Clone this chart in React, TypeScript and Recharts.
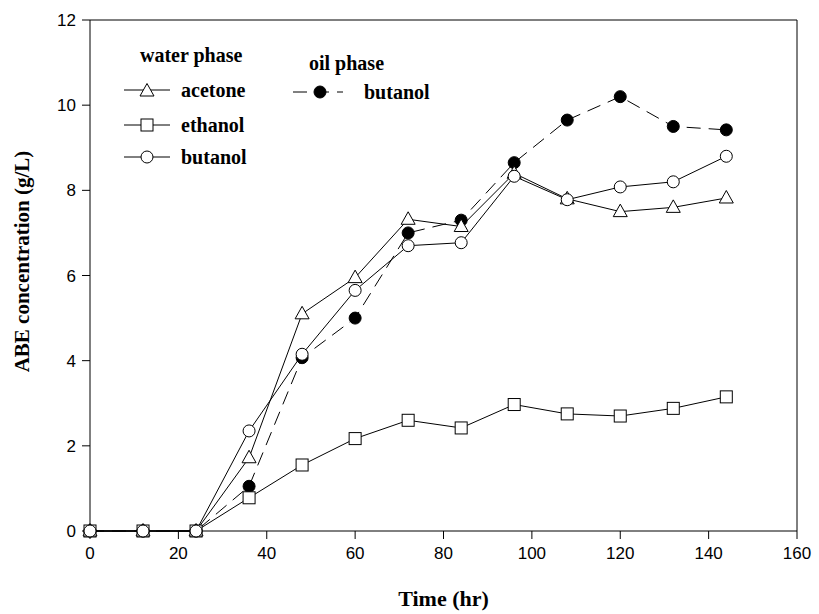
import { LineChart, Line, XAxis, YAxis, ReferenceLine, Label } from 'recharts';

const time = [0, 12, 24, 36, 48, 60, 72, 84, 96, 108, 120, 132, 144];
const acetone = [0, 0, 0, 1.72, 5.1, 5.95, 7.32, 7.15, 8.4, 7.8, 7.5, 7.6, 7.82];
const ethanol = [0, 0, 0, 0.78, 1.55, 2.17, 2.6, 2.42, 2.97, 2.75, 2.7, 2.88, 3.15];
const butanolWater = [0, 0, 0, 2.35, 4.15, 5.65, 6.7, 6.77, 8.33, 7.78, 8.08, 8.2, 8.8];
const butanolOil = [0, 0, 0, 1.05, 4.07, 5.0, 7.0, 7.3, 8.65, 9.65, 10.2, 9.5, 9.42];

const xTicks = [0, 20, 40, 60, 80, 100, 120, 140, 160];
const yTicks = [0, 2, 4, 6, 8, 10, 12];

const data = time.map((t, i) => ({
  t,
  acetone: acetone[i],
  ethanol: ethanol[i],
  butanolWater: butanolWater[i],
  butanolOil: butanolOil[i],
}));

const tickStyle = { fontFamily: 'Liberation Sans, Arial, sans-serif', fontSize: 17, fill: '#000' };
const serifBold = { fontFamily: 'Liberation Serif, Times New Roman, serif', fontWeight: 700 };

const Triangle = ({ cx, cy }: any) => (
  <path d={`M${cx},${cy - 7.5} L${cx + 7},${cy + 5} L${cx - 7},${cy + 5} Z`} fill="#fff" stroke="#000" strokeWidth={1} />
);
const Square = ({ cx, cy }: any) => (
  <rect x={cx - 6} y={cy - 6} width={12} height={12} fill="#fff" stroke="#000" strokeWidth={1} />
);
const OpenCircle = ({ cx, cy }: any) => (
  <circle cx={cx} cy={cy} r={6} fill="#fff" stroke="#000" strokeWidth={1} />
);
const FilledCircle = ({ cx, cy }: any) => (
  <circle cx={cx} cy={cy} r={6} fill="#000" stroke="#000" strokeWidth={1} />
);

// legend drawn by hand, the original has two titled columns
function LegendBox() {
  const rowText = { ...serifBold, fontSize: 20, fill: '#000' };
  return (
    <svg width={340} height={150} style={{ position: 'absolute', left: 120, top: 40 }}>
      <text x={20} y={22} style={rowText}>water phase</text>
      <line x1={4} y1={50} x2={50} y2={50} stroke="#000" />
      <Triangle cx={27} cy={51} />
      <text x={61} y={57} style={rowText}>acetone</text>
      <line x1={4} y1={85} x2={50} y2={85} stroke="#000" />
      <Square cx={27} cy={85} />
      <text x={61} y={92} style={rowText}>ethanol</text>
      <line x1={4} y1={117} x2={50} y2={117} stroke="#000" />
      <OpenCircle cx={27} cy={117} />
      <text x={61} y={124} style={rowText}>butanol</text>

      <text x={189} y={30} style={rowText}>oil phase</text>
      <line x1={173} y1={52} x2={223} y2={52} stroke="#000" strokeDasharray="14 8" />
      <FilledCircle cx={200} cy={52} />
      <text x={244} y={59} style={rowText}>butanol</text>
    </svg>
  );
}

export default function App() {
  return (
    <div style={{ position: 'absolute', left: 0, top: 0, width: 819, height: 614, background: '#fff' }}>
      <LineChart width={819} height={614} data={data} margin={{ top: 20, right: 22, left: 0, bottom: 0 }}>
        <XAxis
          dataKey="t"
          type="number"
          domain={[0, 160]}
          ticks={xTicks}
          tick={tickStyle}
          tickSize={8}
          tickMargin={8}
          stroke="#000"
          height={83}
        >
          <Label value="Time (hr)" position="insideBottom" offset={8} style={{ ...serifBold, fontSize: 22, fill: '#000' }} />
        </XAxis>
        <YAxis
          type="number"
          domain={[0, 12]}
          ticks={yTicks}
          tick={tickStyle}
          tickSize={8}
          tickMargin={6}
          stroke="#000"
          width={90}
        >
          <Label
            value="ABE concentration (g/L)"
            angle={-90}
            position="insideLeft"
            offset={22}
            dy={-14}
            style={{ ...serifBold, fontSize: 21, fill: '#000', textAnchor: 'middle' }}
          />
        </YAxis>
        <ReferenceLine y={12} stroke="#000" />
        <ReferenceLine x={160} stroke="#000" />
        <Line dataKey="butanolOil" stroke="#000" strokeWidth={1} strokeDasharray="14 8" dot={(p: any) => <FilledCircle key={p.key} {...p} />} isAnimationActive={false} />
        <Line dataKey="ethanol" stroke="#000" strokeWidth={1} dot={(p: any) => <Square key={p.key} {...p} />} isAnimationActive={false} />
        <Line dataKey="acetone" stroke="#000" strokeWidth={1} dot={(p: any) => <Triangle key={p.key} {...p} />} isAnimationActive={false} />
        <Line dataKey="butanolWater" stroke="#000" strokeWidth={1} dot={(p: any) => <OpenCircle key={p.key} {...p} />} isAnimationActive={false} />
      </LineChart>
      <LegendBox />
    </div>
  );
}
